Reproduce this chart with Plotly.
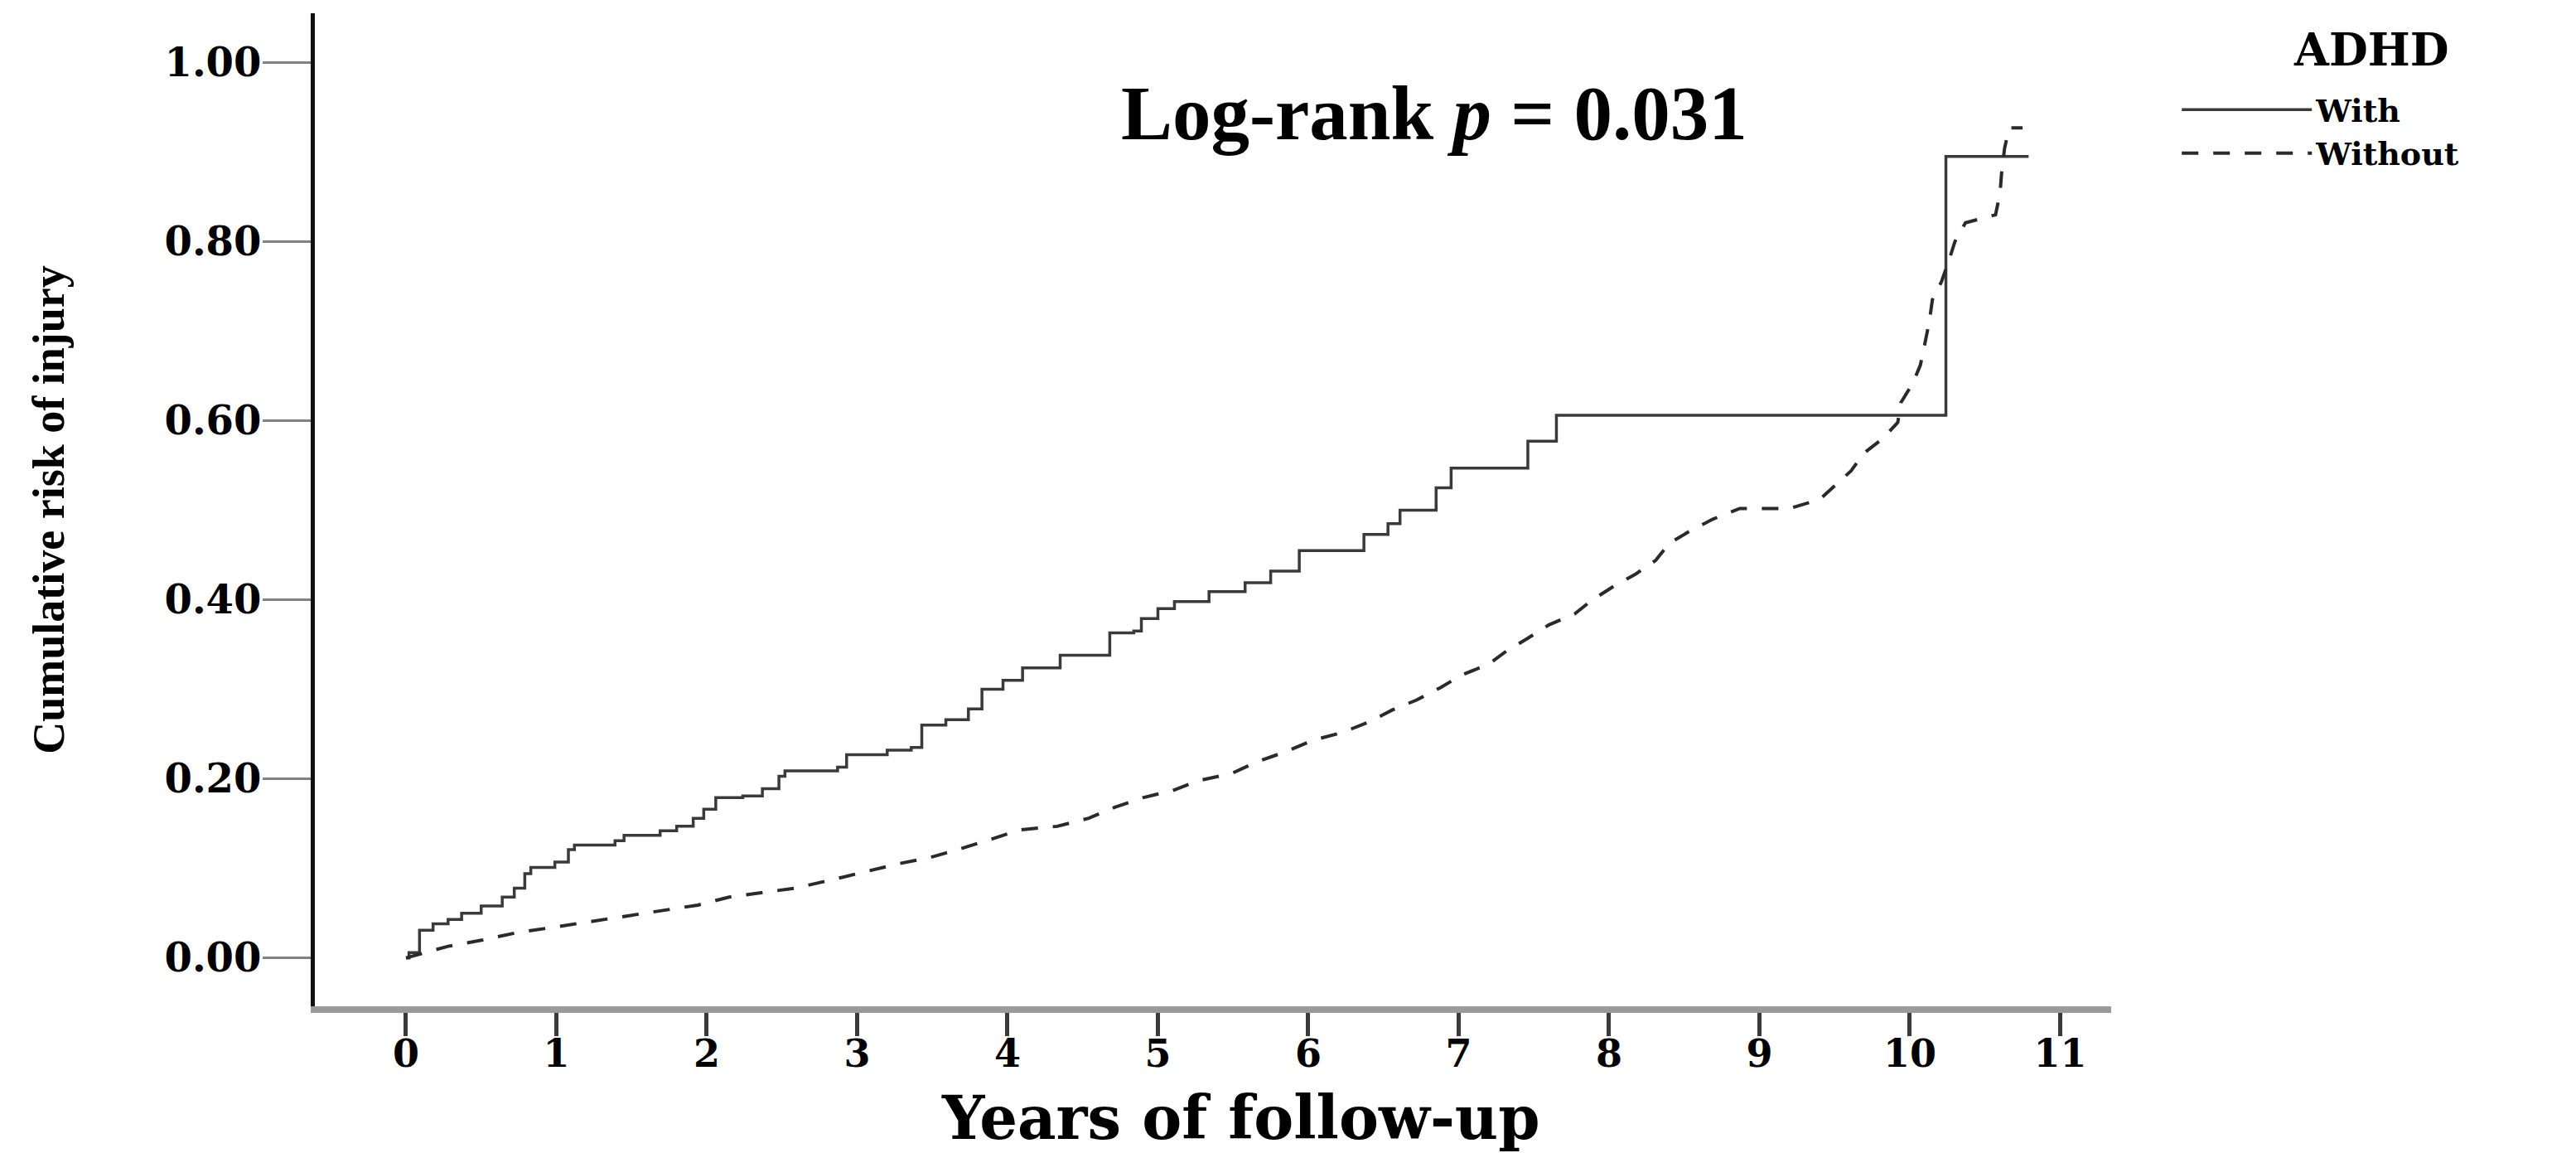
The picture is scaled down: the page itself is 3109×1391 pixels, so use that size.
import plotly.graph_objects as go

# ---- data ----
with_t = [0, 0.02, 0.09, 0.18, 0.28, 0.37, 0.50, 0.64, 0.72, 0.79, 0.83, 0.99, 1.08, 1.12,
          1.39, 1.45, 1.69, 1.80, 1.91, 1.98, 2.06, 2.24, 2.37, 2.48, 2.52, 2.87, 2.93, 3.20,
          3.36, 3.43, 3.59, 3.74, 3.83, 3.97, 4.10, 4.35, 4.68, 4.84, 4.89, 5.00, 5.11, 5.34,
          5.58, 5.75, 5.94, 6.37, 6.53, 6.61, 6.85, 6.95, 7.46, 7.65, 10.24, 10.79]
with_v = [0, 0.006, 0.031, 0.038, 0.043, 0.050, 0.058, 0.068, 0.078, 0.094, 0.101, 0.107, 0.121, 0.126,
          0.131, 0.137, 0.142, 0.147, 0.156, 0.166, 0.179, 0.181, 0.189, 0.203, 0.209, 0.213, 0.227, 0.232,
          0.235, 0.260, 0.266, 0.278, 0.300, 0.310, 0.324, 0.338, 0.363, 0.365, 0.379, 0.390, 0.398, 0.409,
          0.419, 0.432, 0.455, 0.473, 0.485, 0.500, 0.525, 0.547, 0.577, 0.606, 0.895, 0.895]

without_t = [0, 0.28, 0.51, 0.73, 0.97, 1.20, 1.45, 1.70, 1.94, 2.15, 2.39, 2.59, 2.90, 3.27,
             3.48, 3.69, 3.88, 4.08, 4.33, 4.54, 4.71, 4.90, 5.10, 5.27, 5.49, 5.66, 5.86, 6.03,
             6.23, 6.41, 6.56, 6.72, 6.88, 7.02, 7.20, 7.32, 7.46, 7.60, 7.77, 7.89, 8.03, 8.18,
             8.31, 8.40, 8.54, 8.69, 8.87, 9.20, 9.40, 9.51, 9.61, 9.69, 9.82, 9.92, 9.94, 10.02,
             10.07, 10.10, 10.13, 10.15, 10.21, 10.26, 10.30, 10.37, 10.57, 10.60, 10.61, 10.63,
             10.66, 10.75]
without_v = [0.0, 0.013, 0.020, 0.028, 0.034, 0.040, 0.046, 0.053, 0.059, 0.068, 0.073, 0.078, 0.090, 0.105,
             0.112, 0.122, 0.132, 0.143, 0.147, 0.156, 0.168, 0.179, 0.187, 0.198, 0.206, 0.219, 0.231, 0.243,
             0.252, 0.264, 0.277, 0.288, 0.302, 0.316, 0.328, 0.343, 0.357, 0.372, 0.384, 0.400, 0.415, 0.429,
             0.444, 0.463, 0.477, 0.490, 0.502, 0.502, 0.512, 0.529, 0.544, 0.563, 0.580, 0.598, 0.620, 0.642,
             0.662, 0.686, 0.711, 0.735, 0.755, 0.779, 0.800, 0.821, 0.830, 0.854, 0.876, 0.904,
             0.927, 0.927]

x_ticks = list(range(0, 12))
y_ticks = [0.0, 0.2, 0.4, 0.6, 0.8, 1.0]

fig = go.Figure()
fig.add_trace(go.Scatter(x=with_t, y=with_v, mode="lines", name="With",
                         line=dict(color="#3a3a3a", width=3.5, shape="hv")))
fig.add_trace(go.Scatter(x=without_t, y=without_v, mode="lines", name="Without",
                         line=dict(color="#2a2a2a", width=4, dash="20px,18px")))

fig.update_layout(
    width=3109, height=1391, autosize=False,
    margin=dict(l=380, r=561, t=16, b=177),
    paper_bgcolor="white", plot_bgcolor="white",
    showlegend=True,
    legend=dict(
        x=1.037, y=0.929, xanchor="left", yanchor="top",
        font=dict(family="DejaVu Serif", size=38, color="black", weight="bold"),
        itemwidth=157, tracegroupgap=0, bgcolor="rgba(0,0,0,0)",
    ),
    annotations=[
        dict(text="<b>Log-rank <i>p</i> = 0.031</b>", xref="paper", yref="paper",
             x=0.448, y=0.899, xanchor="left", yanchor="middle", showarrow=False,
             font=dict(family="Liberation Serif", size=93, color="black")),
        dict(text="<b>ADHD</b>", xref="paper", yref="paper",
             x=1.1448, y=0.9633, xanchor="center", yanchor="middle", showarrow=False,
             font=dict(family="DejaVu Serif", size=54, color="black")),
        dict(text="<b>Years of follow-up</b>", xref="paper", yref="paper",
             x=0.515, y=-0.1119, xanchor="center", yanchor="middle", showarrow=False,
             font=dict(family="DejaVu Serif", size=72, color="black")),
    ],
)

fig.update_xaxes(
    range=[-0.606, 11.339], tickvals=x_ticks, ticktext=[str(v) for v in x_ticks],
    showgrid=False, zeroline=False,
    showline=True, linecolor="#9a9a9a", linewidth=8,
    ticks="outside", ticklen=28, tickwidth=5, tickcolor="#3a3a3a",
    ticklabelstandoff=-18,
    tickfont=dict(family="DejaVu Serif", size=46, color="black", weight="bold"),
)
fig.update_yaxes(
    range=[-0.054, 1.055], tickvals=y_ticks, tickformat=".2f",
    showgrid=False, zeroline=False,
    showline=True, linecolor="#111111", linewidth=5,
    ticks="outside", ticklen=58, tickwidth=3, tickcolor="#808080",
    ticklabelstandoff=-8,
    tickfont=dict(family="DejaVu Serif", size=48, color="black", weight="bold"),
    title=dict(text="Cumulative risk of injury", standoff=105,
               font=dict(family="Liberation Serif", size=54, color="black", weight="bold")),
)

page_css = ("document.documentElement.style.margin='0';"
            "document.documentElement.style.overflow='hidden';"
            "document.body.style.margin='0';"
            "document.body.style.overflow='hidden';")

fig.write_html("out.html", post_script=page_css, config={"displayModeBar": False})
